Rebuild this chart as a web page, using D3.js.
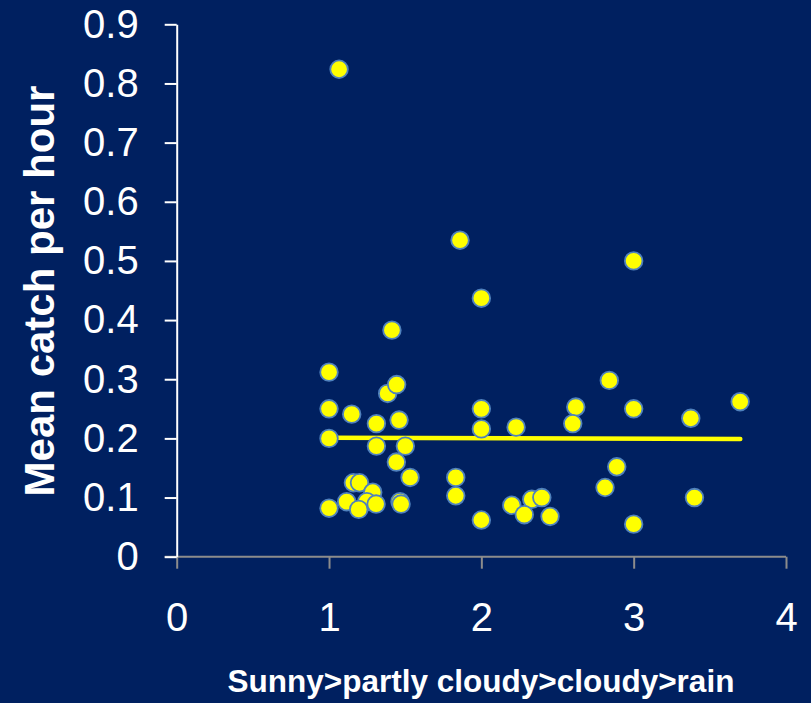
<!DOCTYPE html>
<html>
<head>
<meta charset="utf-8">
<script src="https://cdn.jsdelivr.net/npm/d3@7/dist/d3.min.js"></script>
<style>
  html, body { margin: 0; padding: 0; background: #002060; }
  svg { display: block; }
</style>
</head>
<body>
<svg id="chart" width="811" height="703"></svg>
<script>
// Data
const weatherX = [1.066, 1.0, 1.385, 1.444, 1.413, 1.0, 1.149, 1.311, 1.46, 1.0,
  1.311, 1.501, 1.442, 1.532, 1.16, 1.20, 1.287, 1.116, 1.248, 1.309,
  1.195, 1.0, 1.466, 1.473, 2.0, 2.0, 2.228, 1.832, 1.832, 2.0,
  2.2, 2.331, 2.397, 2.282, 2.451, 1.860, 2.0, 2.84, 2.62, 2.60,
  3.0, 3.375, 3.699, 2.889, 2.812, 3.399, 3.0, 3.0];
const catchY = [0.824, 0.312, 0.276, 0.291, 0.383, 0.250, 0.241, 0.225, 0.231, 0.200,
  0.187, 0.187, 0.160, 0.134, 0.125, 0.125, 0.109, 0.093, 0.093, 0.089,
  0.080, 0.082, 0.093, 0.089, 0.250, 0.216, 0.219, 0.134, 0.103, 0.062,
  0.087, 0.097, 0.100, 0.071, 0.068, 0.535, 0.437, 0.298, 0.253, 0.225,
  0.250, 0.234, 0.262, 0.152, 0.117, 0.100, 0.055, 0.500];
const trendX = [1.0, 3.7];
const trendY = [0.2012, 0.1988];
const xTicks = [0, 1, 2, 3, 4];
const yTicks = [0, 0.1, 0.2, 0.3, 0.4, 0.5, 0.6, 0.7, 0.8, 0.9];
const xTitle = "Sunny>partly cloudy>cloudy>rain";
const yTitle = "Mean catch per hour";

const svg = d3.select("#chart");
const x = d3.scaleLinear().domain([0, 4]).range([176.7, 786]);
const y = d3.scaleLinear().domain([0, 0.9]).range([556.7, 24.3]);

svg.append("rect").attr("width", 811).attr("height", 703).attr("fill", "#002060");

const font = "'Liberation Sans', Arial, sans-serif";

// X axis
const xAxis = svg.append("g").attr("transform", `translate(0,${y(0)})`)
  .call(d3.axisBottom(x).tickValues(xTicks).tickFormat(d3.format("d")).tickSizeInner(12).tickSizeOuter(0).tickPadding(34));
xAxis.select(".domain").attr("stroke", "#8c8c8c").attr("stroke-width", 2)
  .attr("d", `M${x(0) - 12},0H${x(4)}`);
xAxis.selectAll(".tick line").attr("stroke", "#8c8c8c").attr("stroke-width", 2);
xAxis.selectAll(".tick text").attr("fill", "#ffffff").attr("font-family", font).attr("font-size", 40);

// Y axis
const yAxis = svg.append("g").attr("transform", `translate(${x(0)},0)`)
  .call(d3.axisLeft(y).tickValues(yTicks).tickFormat(d => d === 0 ? "0" : d3.format(".1f")(d)).tickSizeInner(12).tickSizeOuter(0).tickPadding(26));
yAxis.select(".domain").attr("stroke", "#ffffff").attr("stroke-width", 2);
yAxis.selectAll(".tick line").attr("stroke", "#ffffff").attr("stroke-width", 2);
yAxis.selectAll(".tick text").attr("fill", "#ffffff").attr("font-family", font).attr("font-size", 40);

// Trend line
svg.append("path")
  .datum(trendX.map((d, i) => [d, trendY[i]]))
  .attr("d", d3.line().x(d => x(d[0])).y(d => y(d[1])))
  .attr("stroke", "#ffff00").attr("stroke-width", 4.5).attr("stroke-linecap", "round").attr("fill", "none");

// Points
svg.append("g").selectAll("circle")
  .data(weatherX.map((d, i) => [d, catchY[i]]))
  .join("circle")
  .attr("cx", d => x(d[0])).attr("cy", d => y(d[1]))
  .attr("r", 8.8)
  .attr("fill", "#ffff00")
  .attr("stroke", "#4f81bd").attr("stroke-width", 1.8);

// Titles
svg.append("text")
  .attr("x", 481).attr("y", 692)
  .attr("text-anchor", "middle").attr("fill", "#ffffff")
  .attr("font-family", font).attr("font-weight", "bold").attr("font-size", 31.5)
  .text(xTitle);

svg.append("text")
  .attr("transform", "translate(54,291) rotate(-90)")
  .attr("text-anchor", "middle").attr("fill", "#ffffff")
  .attr("font-family", font).attr("font-weight", "bold").attr("font-size", 42)
  .text(yTitle);
</script>
</body>
</html>
